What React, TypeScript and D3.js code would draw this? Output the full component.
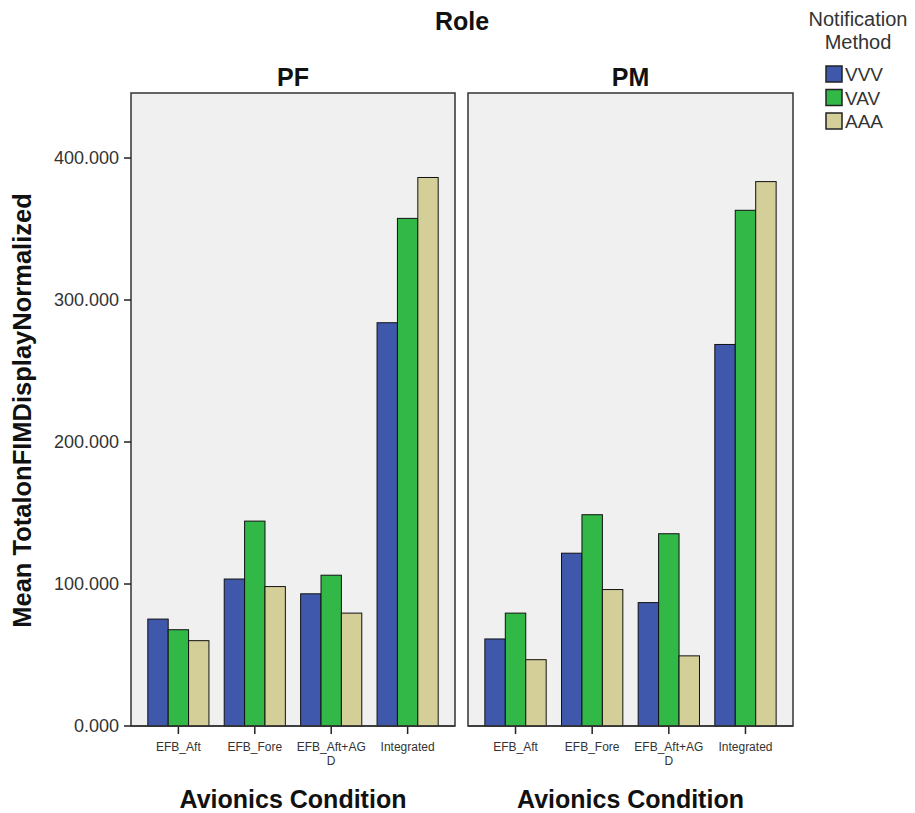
import React from "react";
import * as d3 from "d3";

const categories = ["EFB_Aft", "EFB_Fore", "EFB_Aft+AGD", "Integrated"];
const categoryLines = [["EFB_Aft"], ["EFB_Fore"], ["EFB_Aft+AG", "D"], ["Integrated"]];
const series = ["VVV", "VAV", "AAA"];
const panels = ["PF", "PM"];
const pfVVV = [75.3, 103.5, 93.1, 284.0];
const pfVAV = [67.8, 144.3, 106.2, 357.5];
const pfAAA = [60.1, 98.2, 79.5, 386.3];
const pmVVV = [61.3, 121.7, 86.9, 268.7];
const pmVAV = [79.5, 148.8, 135.4, 363.2];
const pmAAA = [46.7, 96.1, 49.4, 383.4];
const yTicks = [0, 100, 200, 300, 400];
const colors = ["#3f58ab", "#31b847", "#d4cf98"];

const panelData = [
  [pfVVV, pfVAV, pfAAA],
  [pmVVV, pmVAV, pmAAA],
];

export default function App() {
  const W = 915, H = 813;
  const top = 93, bottom = 726;
  const panelX = [[131, 455], [468, 793]];
  const y = d3.scaleLinear().domain([0, 445.8]).range([bottom, top]);
  const font = "'Liberation Sans', Arial, sans-serif";

  return (
    <svg width={W} height={H} style={{ position: "absolute", left: 0, top: 0, background: "#fff" }} fontFamily={font}>
      <text x={462} y={30} textAnchor="middle" fontSize={25} fontWeight="bold" fill="#111">Role</text>
      {panels.map((p, pi) => {
        const [x0, x1] = panelX[pi];
        const xb = d3.scaleBand<string>().domain(categories).range([x0, x1]).paddingInner(0.2).paddingOuter(0.22);
        const xi = d3.scaleBand<string>().domain(series).range([0, xb.bandwidth()]);
        const cx = (x0 + x1) / 2;
        return (
          <g key={p}>
            <text x={cx} y={86} textAnchor="middle" fontSize={25} fontWeight="bold" fill="#111">{p}</text>
            <rect x={x0} y={top} width={x1 - x0} height={bottom - top} fill="#f0f0f0" stroke="#333" strokeWidth={1.5} />
            {categories.map((c, ci) => (
              <g key={c}>
                {series.map((s, si) => {
                  const v = panelData[pi][si][ci];
                  return (
                    <rect key={s} x={(xb(c) as number) + (xi(s) as number)} y={y(v)} width={xi.bandwidth()} height={y(0) - y(v)}
                      fill={colors[si]} stroke="#111" strokeWidth={1} />
                  );
                })}
                <line x1={(xb(c) as number) + xb.bandwidth() / 2} x2={(xb(c) as number) + xb.bandwidth() / 2} y1={bottom} y2={bottom + 8} stroke="#222" strokeWidth={1.5} />
                {categoryLines[ci].map((ln, li) => (
                  <text key={li} x={(xb(c) as number) + xb.bandwidth() / 2} y={751 + li * 14} textAnchor="middle" fontSize={12} fill="#333">{ln}</text>
                ))}
              </g>
            ))}
            <line x1={x0} x2={x1} y1={bottom} y2={bottom} stroke="#333" strokeWidth={1.5} />
            <text x={cx} y={808} textAnchor="middle" fontSize={25} fontWeight="bold" fill="#111">Avionics Condition</text>
          </g>
        );
      })}
      {yTicks.map((t) => (
        <g key={t}>
          <line x1={124} x2={131} y1={y(t)} y2={y(t)} stroke="#222" strokeWidth={1.5} />
          <text x={119} y={y(t) + 6} textAnchor="end" fontSize={18} fill="#333">{d3.format(".3f")(t)}</text>
        </g>
      ))}
      <text transform={`translate(31,${(top + bottom) / 2 + 1}) rotate(-90)`} textAnchor="middle" fontSize={25.5} fontWeight="bold" fill="#111">
        Mean TotalonFIMDisplayNormalized
      </text>
      <text x={858} y={26} textAnchor="middle" fontSize={20} fill="#333">Notification</text>
      <text x={858} y={49} textAnchor="middle" fontSize={20} fill="#333">Method</text>
      {series.map((s, si) => (
        <g key={s}>
          <rect x={826} y={66 + si * 23.5} width={16} height={16} fill={colors[si]} stroke="#222" strokeWidth={1.5} />
          <text x={845} y={81 + si * 23.5} fontSize={19} fill="#333">{s}</text>
        </g>
      ))}
    </svg>
  );
}
